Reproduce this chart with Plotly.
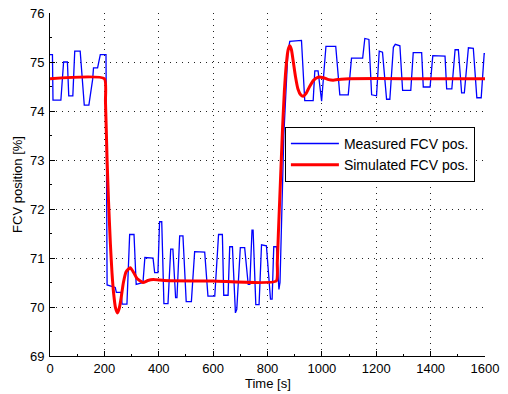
import plotly.graph_objects as go

# Measured flow-control-valve position (time [s], position [%])
meas_t = [0, 9, 11, 40, 50, 64, 69, 84, 91, 111, 126, 143, 157, 160, 175, 185, 206,
          210, 240, 244, 262, 265, 283, 293, 309, 317, 342, 349, 379, 385, 397, 403,
          411, 419, 434, 444, 452, 462, 467, 477, 489, 501, 520, 532, 569, 581, 606,
          620, 634, 639, 655, 661, 671, 682, 687, 700, 716, 729, 735, 743, 747, 757,
          769, 778, 796, 811, 817, 823, 833, 842, 846, 860, 875, 882, 925, 937, 968,
          974, 986, 999, 1015, 1051, 1066, 1097, 1109, 1150, 1158, 1173, 1183, 1201,
          1211, 1223, 1238, 1250, 1263, 1270, 1287, 1297, 1327, 1336, 1367, 1373,
          1398, 1408, 1453, 1459, 1478, 1490, 1502, 1514, 1524, 1539, 1557, 1570,
          1586, 1597, 1600]
meas_v = [75.15, 75.15, 74.22, 74.22, 75.0, 75.0, 74.31, 74.31, 75.22, 75.22, 74.12,
          74.12, 74.65, 74.88, 74.88, 75.15, 75.15,
          70.45, 70.4, 70.3, 70.3, 70.06, 70.06, 71.48, 71.48, 70.46, 70.5, 71.01,
          71.0, 70.7, 70.7, 71.74, 71.74, 70.07, 70.07, 71.18, 71.18, 70.19, 70.19,
          71.45, 71.45, 70.11, 70.11, 71.13, 71.12, 70.22, 70.22, 71.48, 71.48, 70.24,
          70.24, 71.23, 71.23, 69.88, 69.95, 71.21, 71.21, 70.46, 70.46, 71.57, 71.57,
          70.05, 70.05, 71.27, 71.25, 70.16, 70.16, 71.23, 71.23, 70.36, 70.5, 73.5,
          75.2, 75.42, 75.44, 74.21, 74.21, 74.82, 74.82, 74.2, 75.32, 75.32, 74.33,
          74.33, 75.08, 75.08, 75.48, 75.46, 74.33, 74.31, 75.22, 75.2, 74.24, 74.24,
          75.3, 75.36, 75.33, 74.42, 74.42, 75.19, 75.19, 74.49, 74.49, 75.13, 75.12,
          74.45, 74.45, 75.25, 75.25, 74.37, 74.37, 75.29, 75.28, 74.27, 74.27, 75.17,
          75.17]

# Simulated valve position
sim_t = [0, 200, 204, 210, 215, 222, 228, 234, 241, 248, 255, 262, 270, 280, 295,
         308, 320, 342, 360, 380, 420, 600, 832, 836, 840, 845, 850, 855, 862, 870,
         876, 882, 888, 895, 903, 912, 922, 931, 942, 955, 970, 986, 1005, 1025,
         1041, 1070, 1100, 1300, 1600]
sim_v = [74.66, 74.66, 74.2, 73.0, 72.2, 71.3, 70.7, 70.28, 69.98, 69.88, 69.98,
         70.2, 70.5, 70.72, 70.8, 70.7, 70.58, 70.5, 70.54, 70.56, 70.54, 70.53, 70.53,
         70.9, 71.5, 72.2, 72.9, 73.6, 74.4, 75.0, 75.25, 75.33, 75.25, 75.0, 74.7,
         74.45, 74.33, 74.3, 74.36, 74.5, 74.63, 74.69, 74.68, 74.64, 74.63, 74.65,
         74.66, 74.66, 74.66]

x_ticks = [0, 200, 400, 600, 800, 1000, 1200, 1400, 1600]
y_ticks = [69, 70, 71, 72, 73, 74, 75, 76]

fig = go.Figure()
fig.add_trace(go.Scatter(x=meas_t, y=meas_v, mode="lines", name="Measured FCV pos.",
                         line=dict(color="#0000ff", width=1.3)))
fig.add_trace(go.Scatter(x=sim_t, y=sim_v, mode="lines", name="Simulated FCV pos.",
                         line=dict(color="#ff0000", width=3, shape="spline", smoothing=0.5)))

axis_font = dict(family="Liberation Sans, Arial, sans-serif", size=13, color="#000")
common = dict(showgrid=True, gridcolor="#222", griddash="1px,5px", gridwidth=1,
              showline=True, linecolor="#000", linewidth=1,
              ticks="inside", ticklen=5, tickcolor="#000",
              minor=dict(ticks="inside", ticklen=2, tickcolor="#000", showgrid=False),
              zeroline=False, tickfont=axis_font, automargin=False)

fig.update_xaxes(range=[0, 1600], tickmode="array", tickvals=x_ticks, **common)
fig.update_yaxes(range=[69, 76], tickmode="array", tickvals=y_ticks,
                 ticklabelstandoff=2, **common)

# Axis titles placed as paper-anchored text
fig.add_annotation(text="Time [s]", xref="paper", yref="paper", x=0.5, y=-0.08,
                   xanchor="center", yanchor="middle", showarrow=False, font=axis_font)
fig.add_annotation(text="FCV position [%]", xref="paper", yref="paper", x=-0.075, y=0.5,
                   xanchor="center", yanchor="middle", textangle=-90, showarrow=False,
                   font=axis_font)

fig.update_layout(
    width=508, height=394,
    margin=dict(l=50, r=23, t=13, b=38),
    paper_bgcolor="#fff", plot_bgcolor="#fff",
    font=axis_font,
    showlegend=True,
    legend=dict(x=0.54, y=0.668, xanchor="left", yanchor="top",
                bgcolor="#fff", bordercolor="#000", borderwidth=1,
                font=dict(family="Liberation Sans, Arial, sans-serif", size=14, color="#000"),
                tracegroupgap=0, itemwidth=48),
)

fig.write_html("out.html")
